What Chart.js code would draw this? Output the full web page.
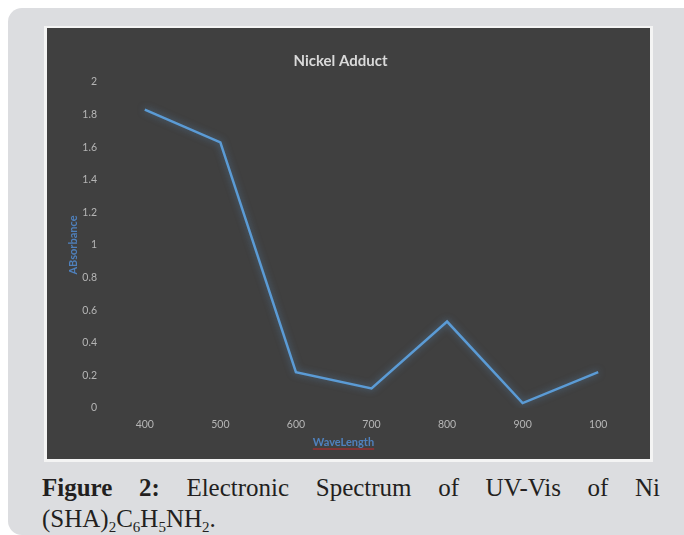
<!DOCTYPE html>
<html lang="en">
<head>
<meta charset="UTF-8">
<title>Nickel Adduct</title>
<script src="https://cdn.jsdelivr.net/npm/chart.js"></script>
<style>
    body {
        margin: 0;
        padding: 0;
        background: #ffffff;
        width: 684px;
        height: 535px;
        overflow: hidden;
        position: relative;
    }
    .panel {
        position: absolute;
        left: 8px;
        top: 8px;
        width: 690px;
        height: 527px;
        background: #dcdde0;
        border-radius: 14px;
    }
    .frame {
        position: absolute;
        left: 44px;
        top: 26px;
        width: 609px;
        height: 436px;
        background: #f4f4f4;
    }
    .chart-box {
        position: absolute;
        left: 47px;
        top: 28px;
        width: 603px;
        height: 431px;
        background: #404040;
    }
    .caption {
        position: absolute;
        left: 42px;
        width: 618px;
        font-family: "Liberation Serif", serif;
        font-size: 25px;
        line-height: 31px;
        color: #231f20;
    }
    .line1 {
        text-align: justify;
        text-align-last: justify;
    }
    .caption sub {
        font-size: 15px;
        vertical-align: -5px;
        line-height: 0;
    }
</style>
</head>
<body>
    <div class="panel"></div>
    <div class="frame"></div>
    <div class="chart-box"><canvas id="chart"></canvas></div>
    <div class="caption" style="top:472px">
        <div class="line1"><b>Figure 2:</b> Electronic Spectrum of UV-Vis of Ni</div>
        <div>(SHA)<sub>2</sub>C<sub>6</sub>H<sub>5</sub>NH<sub>2</sub>.</div>
    </div>

<script>
    // values
    const wavelengths = ["400", "500", "600", "700", "800", "900", "100"];
    const absorbance = [1.83, 1.63, 0.22, 0.12, 0.53, 0.03, 0.22];

    const tickColor = "#b5b5b5";
    const blue = "#5b9bd5";
    const titleBlue = "#4f81bd";

    // soft glow under the line, like the office chart
    const glow = {
        id: "glow",
        beforeDatasetsDraw(chart) {
            const ctx = chart.ctx;
            ctx.save();
            ctx.shadowColor = "rgba(91,155,213,0.55)";
            ctx.shadowBlur = 7;
        },
        afterDatasetsDraw(chart) {
            chart.ctx.restore();
        }
    };

    // chart title and x title sit a bit left of centre in the original,
    // so they are drawn by hand here
    const labels = {
        id: "labels",
        afterDraw(chart) {
            const ctx = chart.ctx;
            const area = chart.chartArea;
            ctx.save();
            ctx.textAlign = "center";
            ctx.textBaseline = "middle";

            ctx.fillStyle = "#dadada";
            ctx.font = "bold 15px Lato";
            ctx.fillText("Nickel Adduct", chart.width / 2 - 8, 33);

            const cx = (area.left + area.right) / 2 - 28;
            const ty = area.bottom + 34;
            ctx.fillStyle = titleBlue;
            ctx.font = "bold 11px Lato";
            ctx.fillText("WaveLength", cx, ty);
            const w = ctx.measureText("WaveLength").width;

            // red spell-check line
            ctx.strokeStyle = "#c0282d";
            ctx.lineWidth = 1.2;
            ctx.beginPath();
            ctx.moveTo(cx - w / 2, ty + 7);
            ctx.lineTo(cx + w / 2, ty + 7);
            ctx.stroke();
            ctx.restore();
        }
    };

    new Chart(document.getElementById("chart"), {
        type: "line",
        data: {
            labels: wavelengths,
            datasets: [{
                label: "Absorbance",
                data: absorbance,
                borderColor: blue,
                borderWidth: 2.5,
                pointRadius: 0,
                tension: 0,
                fill: false
            }]
        },
        options: {
            responsive: true,
            maintainAspectRatio: false,
            animation: false,
            layout: {
                padding: { left: 16, right: 14, top: 54, bottom: 7 }
            },
            plugins: {
                legend: { display: false },
                tooltip: { enabled: false },
                title: { display: false }
            },
            scales: {
                x: {
                    offset: true,
                    grid: { display: false, drawTicks: false },
                    border: { display: false },
                    ticks: {
                        color: tickColor,
                        font: { family: "Lato", size: 10.5 },
                        padding: 10,
                        maxRotation: 0
                    },
                    afterFit(scale) { scale.height = 44; }
                },
                y: {
                    min: 0,
                    max: 2,
                    grid: { display: false, drawTicks: false },
                    border: { display: false },
                    ticks: {
                        stepSize: 0.2,
                        color: tickColor,
                        font: { family: "Lato", size: 10.5 },
                        padding: 10,
                        callback: v => String(+v.toFixed(1))
                    },
                    title: {
                        display: true,
                        text: "ABsorbance",
                        color: titleBlue,
                        font: { family: "Lato", size: 11, weight: "bold" },
                        padding: { top: 4, bottom: 4 }
                    },
                    afterFit(scale) { scale.width = 44; }
                }
            }
        },
        plugins: [glow, labels]
    });
</script>
</body>
</html>
